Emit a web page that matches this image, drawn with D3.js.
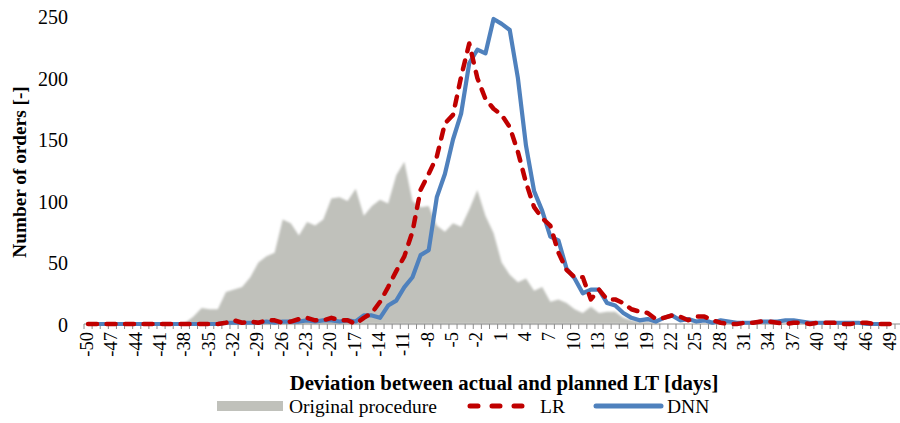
<!DOCTYPE html>
<html>
<head>
<meta charset="utf-8">
<script src="https://cdn.jsdelivr.net/npm/d3@7"></script>
<style>
  body { margin: 0; background: #fff; }
  svg { display: block; }
</style>
</head>
<body>
<div id="chart"></div>
<script>
"use strict";

// days of deviation, -50 .. 49
const days = [-50,-49,-48,-47,-46,-45,-44,-43,-42,-41,-40,-39,-38,-37,-36,-35,-34,-33,-32,-31,
    -30,-29,-28,-27,-26,-25,-24,-23,-22,-21,-20,-19,-18,-17,-16,-15,-14,-13,-12,-11,
    -10,-9,-8,-7,-6,-5,-4,-3,-2,-1,0,1,2,3,4,5,6,7,8,9,
    10,11,12,13,14,15,16,17,18,19,20,21,22,23,24,25,26,27,28,29,
    30,31,32,33,34,35,36,37,38,39,40,41,42,43,44,45,46,47,48,49];

const original = [0,0,0,0,0,0,0,0,0,0,0,0,
    1,6,13,12,12,26,28,30,38,50,55,58,85,82,72,83,80,85,102,103,100,110,88,96,101,98,121,132,
    100,95,96,80,75,82,79,93,109,88,74,50,40,34,37,27,30,18,20,17,12,9,14,9,10,10,5,3,2,2,1,
    0,0,0,0,0,0,0,0,0,0,0,0,0,0,0,0,0,0,0,0,0,0,0,0,0,0,0,0,0];

const lr = [0,0,0,0,0,0,0,0,0,0,0,0,0,0,0,0,0,
    1,3,1,2,1,3,3,1,2,4,5,3,3,5,3,3,0,
    5,9,18,30,43,55,75,109,122,136,
    163,170,201,228,200,183,175,170,160,140,
    115,95,86,80,58,44,38,38,20,28,
    20,20,17,12,10,9,4,5,7,6,
    3,6,6,3,1,0,0,1,1,2,
    2,1,0,1,1,0,1,1,1,0,
    0,1,1,0,0,0];

const dnn = [0,0,0,0,0,0,0,0,0,0,0,0,0,0,0,0,0,
    1,1,1,1,1,2,1,2,2,2,3,2,3,3,2,3,2,
    7,7,5,15,19,30,38,56,60,103,
    122,150,171,212,223,220,248,244,239,200,
    145,108,92,71,68,45,37,25,28,28,
    17,15,9,5,3,4,2,5,7,3,
    4,2,3,1,3,2,1,1,1,2,
    2,2,3,3,2,1,1,1,1,1,
    1,1,0,0,0,0];

const yTicks = [0, 50, 100, 150, 200, 250];
const labelStep = 3;

const seriesNames = ["Original procedure", "LR", "DNN"];
const colors = {area: "#c0c1bb", lr: "#c00000", dnn: "#4f81bd"};
const FONT = "'Liberation Serif'";

const width = 900, height = 423;
const margin = {top: 16.5, right: 5, bottom: 99, left: 84};

const svg = d3.select("#chart").append("svg")
    .attr("width", width)
    .attr("height", height)
    .attr("font-family", FONT);

const defs = svg.append("defs");
defs.append("filter").attr("id", "soft")
    .append("feGaussianBlur").attr("stdDeviation", 0.8);

const x = d3.scaleBand()
    .domain(days)
    .range([margin.left, width - margin.right])
    .padding(0);
const cx = (d) => x(d) + x.bandwidth() / 2;

const y = d3.scaleLinear()
    .domain([0, 250])
    .range([height - margin.bottom, margin.top]);

// y labels, no axis line
const yAxis = svg.append("g")
    .attr("transform", "translate(" + (margin.left - 16) + ",0)")
    .call(d3.axisLeft(y).tickValues(yTicks).tickSize(0).tickPadding(0));
yAxis.attr("font-family", FONT).attr("font-size", 20);
yAxis.select(".domain").remove();
yAxis.selectAll("text")
    .attr("fill", "#000")
    .attr("dy", "0.35em");

// gray area
const area = d3.area()
    .x((d, i) => cx(days[i]))
    .y0(y(0))
    .y1((d) => y(d));

svg.append("path")
    .datum(original)
    .attr("d", area)
    .attr("fill", colors.area)
    .attr("filter", "url(#soft)");

// x axis line + boundary ticks
const x0 = height - margin.bottom;
svg.append("line")
    .attr("x1", x(days[0]))
    .attr("x2", width)
    .attr("y1", x0).attr("y2", x0)
    .attr("stroke", "#8c8c8c").attr("stroke-width", 1.2);

const bounds = days.map((d) => x(d)).concat([x(days[days.length - 1]) + x.bandwidth()]);
svg.append("g").selectAll("line")
    .data(bounds)
    .join("line")
    .attr("x1", (d) => d).attr("x2", (d) => d)
    .attr("y1", x0).attr("y2", x0 + 5)
    .attr("stroke", "#8c8c8c").attr("stroke-width", 1);

// x labels
svg.append("g").selectAll("text")
    .data(days.filter((d, i) => i % labelStep === 0))
    .join("text")
    .attr("transform", (d) => "translate(" + (cx(d) + 5) + "," + (x0 + 8) + ") rotate(-90)")
    .attr("text-anchor", "end")
    .attr("font-size", 18.5)
    .text((d) => d);

// lines
const line = d3.line()
    .x((d, i) => cx(days[i]))
    .y((d) => y(d));

svg.append("path")
    .datum(dnn)
    .attr("d", line)
    .attr("fill", "none")
    .attr("stroke", colors.dnn)
    .attr("stroke-width", 4.2)
    .attr("stroke-linejoin", "round");

svg.append("path")
    .datum(lr)
    .attr("d", line)
    .attr("fill", "none")
    .attr("stroke", colors.lr)
    .attr("stroke-width", 4.5)
    .attr("stroke-linecap", "round")
    .attr("stroke-linejoin", "round")
    .attr("stroke-dasharray", "9,9.5");

// axis titles
svg.append("text")
    .attr("x", 504).attr("y", 390)
    .attr("text-anchor", "middle")
    .attr("font-size", 20.8)
    .attr("font-weight", "bold")
    .text("Deviation between actual and planned LT [days]");

svg.append("text")
    .attr("transform", "translate(26,172) rotate(-90)")
    .attr("text-anchor", "middle")
    .attr("font-size", 19.3)
    .attr("font-weight", "bold")
    .text("Number of orders [-]");

// legend
const ly = 406;
const leg = svg.append("g").attr("font-size", 19.5);

leg.append("rect")
    .attr("x", 217).attr("y", ly - 5)
    .attr("width", 66).attr("height", 10)
    .attr("fill", colors.area);
leg.append("text").attr("x", 289).attr("y", ly + 6.5).text(seriesNames[0]);

leg.append("line")
    .attr("x1", 470).attr("x2", 530).attr("y1", ly).attr("y2", ly)
    .attr("stroke", colors.lr).attr("stroke-width", 5)
    .attr("stroke-linecap", "round")
    .attr("stroke-dasharray", "8,14");
leg.append("text").attr("x", 540).attr("y", ly + 6.5).text(seriesNames[1]);

leg.append("line")
    .attr("x1", 596).attr("x2", 661).attr("y1", ly).attr("y2", ly)
    .attr("stroke", colors.dnn).attr("stroke-width", 5)
    .attr("stroke-linecap", "round");
leg.append("text").attr("x", 667).attr("y", ly + 6.5).text(seriesNames[2]);
</script>
</body>
</html>
